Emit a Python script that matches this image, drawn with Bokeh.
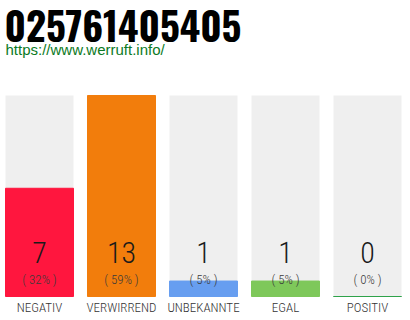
from bokeh.plotting import figure
from bokeh.models import Range1d, ColumnDataSource
from bokeh.core.properties import value
from bokeh.embed import file_html
from bokeh.resources import INLINE

# Vote counts per rating category
categories = ["NEGATIV", "VERWIRREND", "UNBEKANNTE", "EGAL", "POSITIV"]
counts = [7, 13, 1, 1, 0]
percents = [32, 59, 5, 5, 0]
colors = ["#ff163e", "#f27d0c", "#679ef0", "#7ec85a", "#2ea24a"]

title_text = "025761405405"
url_text = "https://www.werruft.info/"

W, H = 410, 320
LABEL_FONT = "Roboto Condensed Light"
TITLE_FONT = "Oswald"

# vertical scale: value 0 sits 24px above the bottom, the largest value 95px below the top
top_px, base_px = 95, 296
vmax = max(counts)
unit = (base_px - top_px) / vmax
y_top = vmax + top_px / unit
y_bot = -(H - base_px) / unit


def py(px):
    """Data y for a pixel row measured from the top."""
    return y_top - px / unit


shift = 2 / 82
x_lo = -0.5 + shift
x_hi = len(categories) - 0.5 + shift


def px_x(px):
    """Data x for a pixel column measured from the left."""
    return x_lo + px / 82


xs = list(range(len(categories)))
src = ColumnDataSource(dict(
    x=xs,
    top=counts,
    full=[vmax] * len(counts),
    color=colors,
    cnt=[str(c) for c in counts],
    pct=[f"( {p}% )" for p in percents],
    cat=categories,
    y_cnt=[py(252)] * len(counts),
    y_pct=[py(279)] * len(counts),
    y_cat=[py(307)] * len(counts),
))

p = figure(width=W, height=H, output_backend="svg", toolbar_location=None,
           x_range=Range1d(x_lo, x_hi), y_range=Range1d(y_bot, y_top), min_border=0)
p.axis.visible = False
p.grid.visible = False
p.outline_line_color = None
p.background_fill_color = "white"
p.border_fill_color = "white"

bw = 68 / 82
p.vbar(x="x", top="full", bottom=0, width=bw, source=src,
       fill_color="#efefef", line_color=None)
p.vbar(x="x", top="top", bottom=0, width=bw, source=src,
       fill_color="color", line_color="color", line_width=1)

p.text(x="x", y="y_cnt", text="cnt", source=src, text_align="center",
       text_baseline="middle", text_font=value(LABEL_FONT),
       text_font_size="30px", text_color="#1a1a1a")
p.text(x="x", y="y_pct", text="pct", source=src, text_align="center",
       text_baseline="middle", text_font=value(LABEL_FONT),
       text_font_size="13px", text_color="#3a3a3a")
p.text(x="x", y="y_cat", text="cat", source=src, text_align="center",
       text_baseline="middle", text_font=value(LABEL_FONT),
       text_font_size="13px", text_color="#333333")

# page heading and site address
p.text(x=[px_x(4)], y=[py(25)], text=[title_text], text_align="left",
       text_baseline="middle", text_font=value(TITLE_FONT), text_font_style="bold",
       text_font_size="39px", text_color="#000000")
p.text(x=[px_x(5)], y=[py(49)], text=[url_text], text_align="left",
       text_baseline="middle", text_font=value("Liberation Sans"),
       text_font_size="15px", text_color="#0b7a24")

open("out.html", "w").write(file_html(p, INLINE))
